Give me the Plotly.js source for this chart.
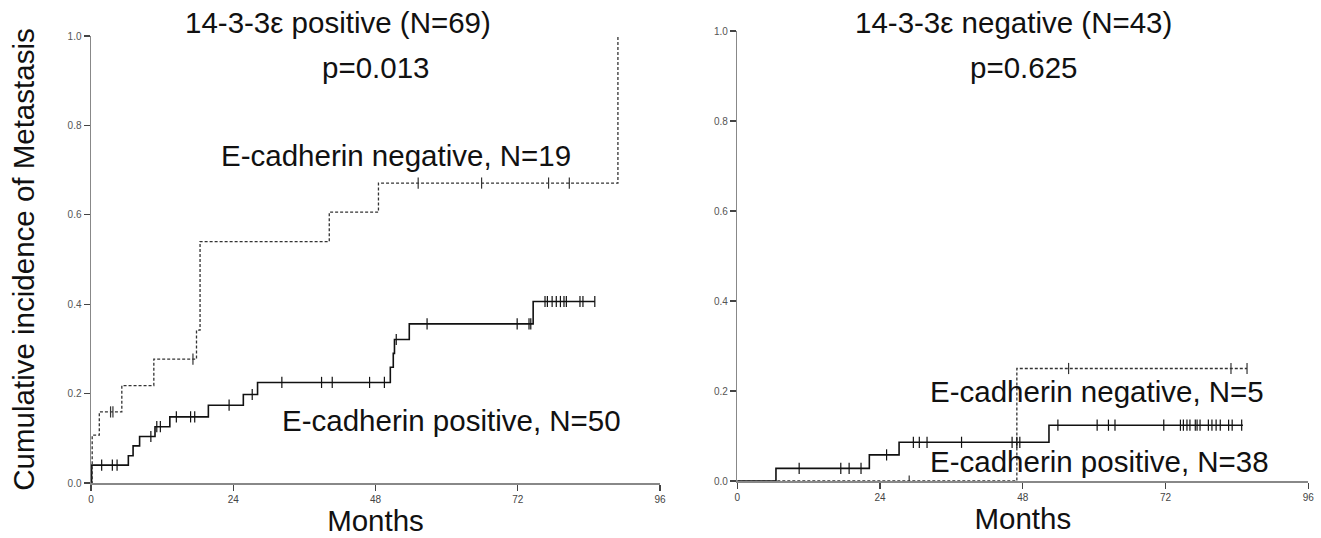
<!DOCTYPE html>
<html><head><meta charset="utf-8">
<script src="https://cdn.plot.ly/plotly-3.0.1.min.js"></script>
<style>html,body{margin:0;padding:0;background:#fff;}#chart{width:1321px;height:538px;}</style>
</head><body><div id="chart"></div>
<script>
// ---------- DATA ----------
// Left panel: 14-3-3e positive
const posNegTimes = [0, 0.2, 1.4, 5.2, 10.6, 17.8, 18.4, 40.2, 48.5, 88.9];
const posNegValues = [0, 0.107, 0.159, 0.218, 0.277, 0.342, 0.540, 0.606, 0.671, 1.0];
const posNegCensor = [3.3, 3.7, 17.2, 55.2, 65.9, 77.2, 80.7];

const posPosTimes = [0, 0.1, 6.3, 7.1, 8.2, 10.8, 13.3, 19.8, 25.7, 28.1, 50.5, 51.0, 51.2, 53.7, 74.6, 85.0];
const posPosValues = [0, 0.040, 0.061, 0.083, 0.104, 0.126, 0.148, 0.174, 0.198, 0.225, 0.259, 0.290, 0.321, 0.356, 0.406, 0.406];
const posPosCensor = [1.8, 3.6, 4.4, 10.1, 11.1, 11.7, 14.4, 16.8, 17.5, 23.3, 27.2, 32.2, 38.9, 40.7, 47.0, 49.5, 51.5, 56.7, 71.9, 73.9, 74.2, 76.6, 77.0, 77.8, 78.5, 79.2, 79.8, 80.2, 82.5, 83.0, 85.0];

// Right panel: 14-3-3e negative
const negNegTimes = [0, 47.0, 85.7];
const negNegValues = [0, 0.250, 0.250];
const negNegCensor = [28.9, 55.7, 83.0, 85.7];

const negPosTimes = [0, 6.5, 22.2, 27.2, 52.4, 85.0];
const negPosValues = [0, 0.028, 0.058, 0.086, 0.124, 0.124];
const negPosCensor = [10.4, 17.4, 18.8, 20.8, 25.1, 29.6, 30.6, 31.9, 37.7, 46.2, 47.0, 47.5, 53.9, 60.5, 62.4, 63.5, 71.7, 74.5, 75.0, 75.6, 76.1, 77.0, 77.3, 77.8, 79.2, 79.8, 80.5, 81.2, 82.6, 83.2, 84.8];

const xTicks = [0, 24, 48, 72, 96];
const yTicks = [0, 0.2, 0.4, 0.6, 0.8, 1.0];

const titles = ['14-3-3ε positive (N=69)', '14-3-3ε negative (N=43)'];
const pValues = ['p=0.013', 'p=0.625'];
const groupLabels = ['E-cadherin negative, N=19', 'E-cadherin positive, N=50', 'E-cadherin negative, N=5', 'E-cadherin positive, N=38'];

// ---------- helpers ----------
function stepAt(times, values, t) {
  let v = values[0];
  for (let i = 0; i < times.length; i++) { if (times[i] <= t) v = values[i]; }
  return v;
}
function curve(times, values, xa, ya, dashed) {
  return {x: times, y: values, xaxis: xa, yaxis: ya, type: 'scatter', mode: 'lines',
    line: {shape: 'hv', color: dashed ? '#333' : '#111', width: dashed ? 1.3 : 1.6, dash: dashed ? '3px,2px' : 'solid'},
    hoverinfo: 'skip', showlegend: false};
}
function censor(ct, times, values, xa, ya, dashed) {
  return {x: ct, y: ct.map(t => stepAt(times, values, t)), xaxis: xa, yaxis: ya, type: 'scatter', mode: 'markers',
    marker: {symbol: 'line-ns', size: 8, line: {color: dashed ? '#333' : '#111', width: 1.2}},
    hoverinfo: 'skip', showlegend: false};
}

const traces = [
  curve(posPosTimes, posPosValues, 'x', 'y', false),
  curve(posNegTimes, posNegValues, 'x', 'y', true),
  censor(posPosCensor, posPosTimes, posPosValues, 'x', 'y', false),
  censor(posNegCensor, posNegTimes, posNegValues, 'x', 'y', true),
  curve(negPosTimes, negPosValues, 'x2', 'y2', false),
  curve(negNegTimes, negNegValues, 'x2', 'y2', true),
  censor(negPosCensor, negPosTimes, negPosValues, 'x2', 'y2', false),
  censor(negNegCensor, negNegTimes, negNegValues, 'x2', 'y2', true)
];

const W = 1321, H = 538;
const px = v => v / W, py = v => 1 - v / H;
const FAM = 'Liberation Sans, Arial, sans-serif';

function xax(domain, anchor) {
  return {domain: domain, anchor: anchor, range: [0, 96], tickvals: xTicks, ticktext: xTicks.map(String),
    showgrid: false, zeroline: false, showline: true, linecolor: '#888', linewidth: 1.5,
    ticks: 'outside', ticklen: 6, tickcolor: '#444', tickwidth: 1.2,
    tickfont: {family: FAM, size: 10, color: '#444'},
    title: {text: 'Months', font: {family: FAM, size: 29.5, color: '#111'}, standoff: 6}};
}
function yax(domain, anchor) {
  return {domain: domain, anchor: anchor, range: [0, 1.0], tickvals: yTicks, ticktext: yTicks.map(v => v.toFixed(1)),
    showgrid: false, zeroline: false, showline: true, linecolor: '#888', linewidth: 1.5,
    ticks: 'outside', ticklen: 6, tickcolor: '#444', tickwidth: 1.2,
    tickfont: {family: FAM, size: 10, color: '#555'}};
}

const F = {family: FAM, size: 29.5, color: '#111'};
const ann = (text, x, y) => ({text: text, xref: 'paper', yref: 'paper', x: px(x), y: py(y), xanchor: 'center', yanchor: 'middle', showarrow: false, font: F});

const layout = {
  width: W, height: H, margin: {l: 0, r: 0, t: 0, b: 0},
  paper_bgcolor: '#fff', plot_bgcolor: '#fff', showlegend: false,
  xaxis: xax([px(91), px(660)], 'y'),
  yaxis: Object.assign(yax([1 - 483 / H, 1 - 36 / H], 'x'), {
    title: {text: 'Cumulative incidence of Metastasis', font: {family: FAM, size: 29.5, color: '#111'}, standoff: 24}}),
  xaxis2: xax([px(737.3), px(1308.3)], 'y2'),
  yaxis2: yax([1 - 481 / H, 1 - 31 / H], 'x2'),
  annotations: [
    ann(titles[0], 337.5, 22), ann(pValues[0], 375.5, 67),
    ann(groupLabels[0], 395.5, 155), ann(groupLabels[1], 451, 420),
    ann(titles[1], 1013, 22), ann(pValues[1], 1023, 67),
    ann(groupLabels[2], 1097, 391), ann(groupLabels[3], 1099, 461)
  ]
};

Plotly.newPlot('chart', traces, layout, {displayModeBar: false, staticPlot: true});
</script></body></html>
